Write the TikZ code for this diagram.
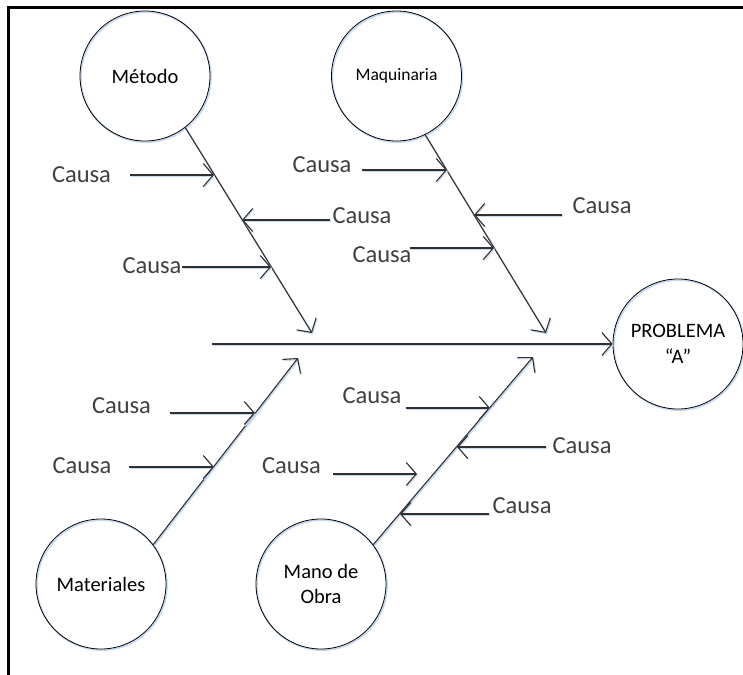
\documentclass[tikz,border=0pt]{standalone}
\usepackage{fontspec}
\setmainfont{Carlito}
\usetikzlibrary{arrows.meta,calc}
\definecolor{causegray}{HTML}{404040}
\definecolor{linegray}{HTML}{303030}
\definecolor{shadowblue}{HTML}{C6D9F1}
\begin{document}
\begin{tikzpicture}[x=1pt,y=-1pt,
  shadowed/.style={preaction={draw=shadowblue, line width=1.6pt, transform canvas={shift={(1pt,-1.2pt)}}}},
  cat/.style={circle, draw=black, line width=0.8pt, minimum size=130pt, inner sep=0pt, align=center,
    font=\fontsize{20.5}{25.5}\selectfont, text=black, shadowed},
  causetext/.style={font=\fontsize{24.5}{28}\selectfont, text=causegray, inner sep=0pt},
  bone/.style={draw=linegray, line width=1.1pt, -{Straight Barb[length=10pt,width=23pt,line width=1.1pt]}, shadowed},
  cause/.style={bone},
]
\useasboundingbox (0,0) rectangle (743,674);
% frame
\draw[line width=2.6pt, black] (744,7.5) -- (8.5,7.5) -- (8.5,676);

% category circles
\node[cat] (metodo) at (145,76) {Método};
\node[cat, font=\fontsize{17.5}{21}\selectfont] (maquinaria) at (396.5,76) {Maquinaria};
\node[cat] (problema) at (678,344) {PROBLEMA\\“A”};
\node[cat] (materiales) at (101,584) {Materiales};
\node[cat] (mano) at (321,584) {Mano de\\Obra};

% spine
\coordinate (spstart) at (212,344);
\draw[bone] (spstart) -- (problema.west);

% bones
\coordinate (mtip) at (312,333);
\coordinate (qtip) at (546,333);
\coordinate (ttip) at (298,358);
\coordinate (otip) at (533,357);
\draw[bone] (metodo.-52.4) -- (mtip);
\draw[bone] (maquinaria.-64.2) -- (qtip);
\draw[bone] (materiales.37) -- (ttip);
\draw[bone] (mano.37) -- (otip);

% Metodo causes
\node[causetext] (tm1) at (81.5,175) {Causa};
\node[causetext] (tm2) at (362,216) {Causa};
\node[causetext] (tm3) at (152,266) {Causa};
\coordinate (m1a) at (130,175); \coordinate (m1b) at (214,175);
\coordinate (m2a) at (330,220); \coordinate (m2b) at (242,220);
\coordinate (m3a) at (182,267); \coordinate (m3b) at (271,267);
\draw[cause] (m1a) -- (m1b);
\draw[cause] (m2a) -- (m2b);
\draw[cause] (m3a) -- (m3b);

% Maquinaria causes
\node[causetext] (tq1) at (322,165) {Causa};
\node[causetext] (tq2) at (602,206) {Causa};
\node[causetext] (tq3) at (382,255) {Causa};
\coordinate (q1a) at (362,170); \coordinate (q1b) at (447,170);
\coordinate (q2a) at (562,215); \coordinate (q2b) at (474,215);
\coordinate (q3a) at (410,248); \coordinate (q3b) at (494,248);
\draw[cause] (q1a) -- (q1b);
\draw[cause] (q2a) -- (q2b);
\draw[cause] (q3a) -- (q3b);

% Materiales causes
\node[causetext] (tt1) at (121.5,406) {Causa};
\node[causetext] (tt2) at (82,466) {Causa};
\coordinate (t1a) at (170,413); \coordinate (t1b) at (255,413);
\coordinate (t2a) at (129,467); \coordinate (t2b) at (214,467);
\draw[cause] (t1a) -- (t1b);
\draw[cause] (t2a) -- (t2b);

% Mano de Obra causes
\node[causetext] (to1) at (372,396) {Causa};
\node[causetext] (to2) at (582,446) {Causa};
\node[causetext] (to3) at (291.5,466) {Causa};
\node[causetext] (to4) at (522,506) {Causa};
\coordinate (o1a) at (406,408); \coordinate (o1b) at (490,408);
\coordinate (o2a) at (546,447); \coordinate (o2b) at (457,447);
\coordinate (o3a) at (333,474); \coordinate (o3b) at (417,474);
\coordinate (o4a) at (489,514); \coordinate (o4b) at (400,514);
\draw[cause] (o1a) -- (o1b);
\draw[cause] (o2a) -- (o2b);
\draw[cause] (o3a) -- (o3b);
\draw[cause] (o4a) -- (o4b);
\end{tikzpicture}
\end{document}
